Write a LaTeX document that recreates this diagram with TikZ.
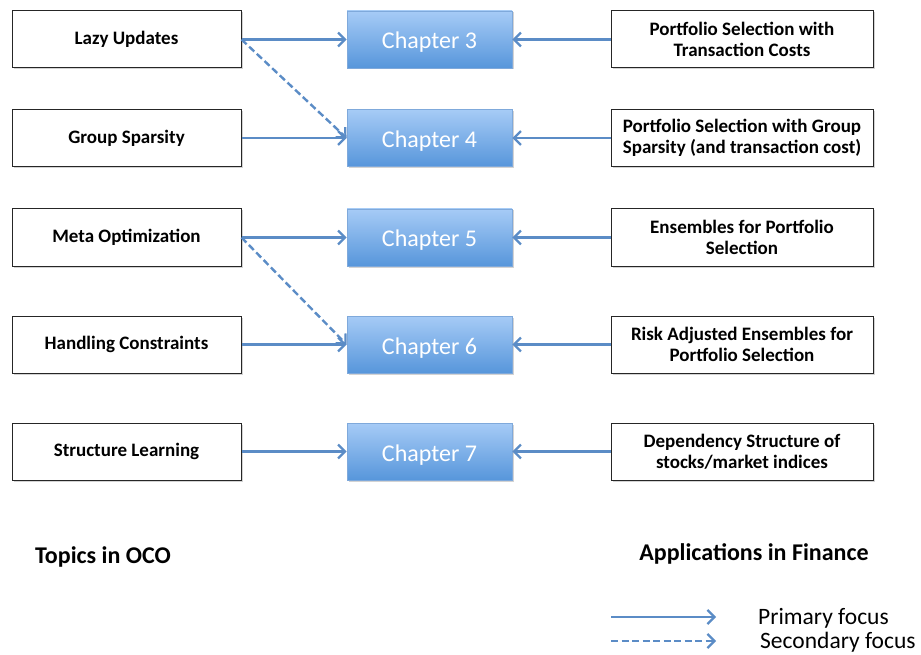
\documentclass[tikz,border=0pt]{standalone}
\usepackage{fontspec}
\setmainfont{Carlito}
\usepackage{tikz}
\usetikzlibrary{arrows.meta, shadows}

\definecolor{arrowblue}{HTML}{5B8CC6}
\definecolor{chaptop}{HTML}{A6CBF6}
\definecolor{chapbot}{HTML}{5796DB}
\definecolor{chapedge}{HTML}{7FA9DB}

\begin{document}
\begin{tikzpicture}[x=1pt, y=-1pt,
    topic/.style={draw=black!85, fill=white, line width=1pt, minimum width=229pt, minimum height=57pt,
      align=center, font=\fontsize{19}{21}\selectfont\bfseries,
      drop shadow={shadow xshift=1.5pt, shadow yshift=-1.5pt, opacity=0.35}},
    app/.style={topic, minimum width=262pt},
    chapter/.style={draw=chapedge, line width=0.8pt, top color=chaptop, bottom color=chapbot,
      minimum width=165pt, minimum height=57pt, text=white, font=\fontsize{24}{28}\selectfont,
      text height=19pt, text depth=0pt,
      drop shadow={shadow xshift=1.5pt, shadow yshift=-1.5pt, opacity=0.35}},
    primary/.style={draw=arrowblue, line width=2.4pt, -{Straight Barb[length=7pt, width=14pt, line width=2.2pt]}},
    secondary/.style={primary, dashed, dash pattern=on 7pt off 3.5pt}]

    \useasboundingbox (0,0) rectangle (921,655);

    % Topics in OCO (left column)
    \node[topic] (lazy) at (126.5,39.5) {Lazy Updates};
    \node[topic] (group) at (126.5,138) {Group Sparsity};
    \node[topic] (meta) at (126.5,237.5) {Meta Optimization};
    \node[topic] (constr) at (126.5,344.5) {Handling Constraints};
    \node[topic] (struct) at (126.5,451.5) {Structure Learning};

    % Chapters (middle column)
    \node[chapter] (ch3) at (429.5,39.5) {Chapter 3};
    \node[chapter] (ch4) at (429.5,138) {Chapter 4};
    \node[chapter] (ch5) at (429.5,237.5) {Chapter 5};
    \node[chapter] (ch6) at (429.5,344.5) {Chapter 6};
    \node[chapter] (ch7) at (429.5,451.5) {Chapter 7};

    % Applications in finance (right column)
    \node[app] (costs) at (742,39.5) {Portfolio Selection with\\Transaction Costs};
    \node[app] (sparse) at (742,138) {Portfolio Selection with Group\\Sparsity (and transaction cost)};
    \node[app] (ens) at (742,237.5) {Ensembles for Portfolio\\Selection};
    \node[app] (risk) at (742,344.5) {Risk Adjusted Ensembles for\\Portfolio Selection};
    \node[app] (dep) at (742,451.5) {Dependency Structure of\\stocks/market indices};

    % Primary arrows
    \draw[primary] (lazy.east) -- (ch3.west);
    \draw[primary] (group.east) -- (ch4.west);
    \draw[primary] (meta.east) -- (ch5.west);
    \draw[primary] (constr.east) -- (ch6.west);
    \draw[primary] (struct.east) -- (ch7.west);
    \draw[primary] (costs.west) -- (ch3.east);
    \draw[primary] (sparse.west) -- (ch4.east);
    \draw[primary] (ens.west) -- (ch5.east);
    \draw[primary] (risk.west) -- (ch6.east);
    \draw[primary] (dep.west) -- (ch7.east);

    % Secondary arrows
    \draw[secondary] (lazy.east) -- (ch4.west);
    \draw[secondary] (meta.east) -- (ch6.west);

    % Column titles
    \node[font=\fontsize{24}{28}\selectfont\bfseries] (ocotitle) at (103,557) {Topics in OCO};
    \node[font=\fontsize{24}{28}\selectfont\bfseries] (fintitle) at (754,554) {Applications in Finance};

    % Legend
    \coordinate (lp1) at (611,617);
    \coordinate (lp2) at (716,617);
    \coordinate (ls1) at (611,641);
    \coordinate (ls2) at (716,641);
    \draw[primary] (lp1) -- (lp2);
    \draw[secondary] (ls1) -- (ls2);
    \node[anchor=west, font=\fontsize{23.5}{28}\selectfont, inner sep=0pt] (primlabel) at (758,618) {Primary focus};
    \node[anchor=west, font=\fontsize{23.5}{28}\selectfont, inner sep=0pt] (seclabel) at (760,642) {Secondary focus};
\end{tikzpicture}
\end{document}
